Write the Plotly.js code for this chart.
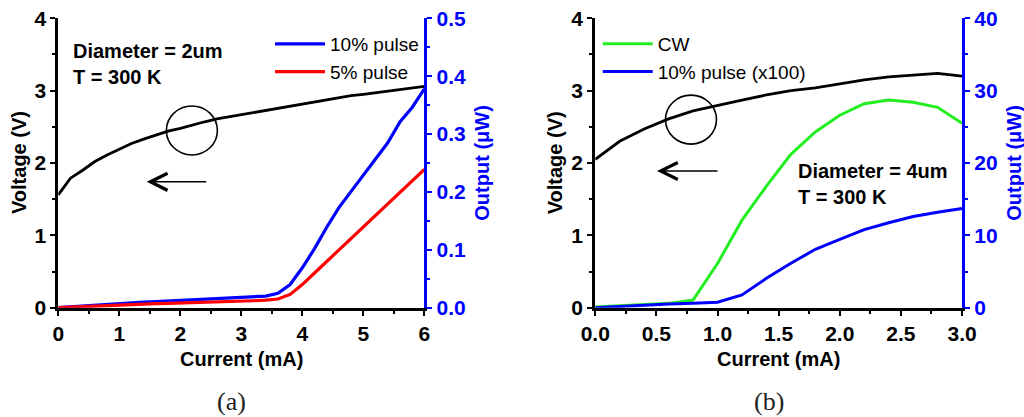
<!DOCTYPE html>
<html>
<head>
<meta charset="utf-8">
<script src="https://cdn.plot.ly/plotly-3.0.1.min.js"></script>
<style>
  html, body { margin: 0; padding: 0; background: #fff; }
  #chart { width: 1024px; height: 417px; }
</style>
</head>
<body>
<div id="chart"></div>
<script>
// (a) 2 um device: current sweep, voltage and pulsed output
const currentA = [0, 0.2, 0.4, 0.6, 0.8, 1.0, 1.2, 1.4, 1.6, 1.8, 2.0, 2.2, 2.4, 2.6, 2.8, 3.0,
                  3.2, 3.4, 3.6, 3.8, 4.0, 4.2, 4.4, 4.6, 4.8, 5.0, 5.2, 5.4, 5.6, 5.8, 6.0];
const voltageA = [1.56, 1.79, 1.90, 2.02, 2.11, 2.19, 2.27, 2.33, 2.39, 2.44, 2.48, 2.53, 2.57, 2.61, 2.64, 2.67,
                  2.70, 2.73, 2.76, 2.79, 2.82, 2.85, 2.87, 2.90, 2.93, 2.95, 2.97, 2.99, 3.01, 3.03, 3.06];
const pulse10A = [0.000, 0.0015, 0.003, 0.0045, 0.006, 0.0075, 0.0085, 0.0095, 0.0105, 0.0115, 0.012, 0.013, 0.014, 0.015, 0.016, 0.017,
                  0.018, 0.020, 0.025, 0.040, 0.069, 0.102, 0.139, 0.173, 0.201, 0.229, 0.257, 0.285, 0.321, 0.346, 0.378];
const pulse5A  = [0.000, 0.001, 0.002, 0.003, 0.004, 0.005, 0.0055, 0.006, 0.007, 0.0075, 0.008, 0.0085, 0.009, 0.0095, 0.010, 0.011,
                  0.012, 0.013, 0.015, 0.023, 0.040, 0.060, 0.080, 0.100, 0.120, 0.140, 0.160, 0.180, 0.200, 0.220, 0.239];

// (b) 4 um device
const currentB = [0, 0.2, 0.4, 0.6, 0.8, 1.0, 1.2, 1.4, 1.6, 1.8, 2.0, 2.2, 2.4, 2.6, 2.8, 3.0];
const voltageB = [2.05, 2.30, 2.47, 2.61, 2.72, 2.80, 2.87, 2.94, 3.00, 3.04, 3.10, 3.15, 3.19, 3.21, 3.24, 3.20];
const cwB      = [0.1, 0.25, 0.4, 0.6, 1.05, 6.1, 12.1, 16.8, 21.2, 24.3, 26.6, 28.2, 28.7, 28.4, 27.7, 25.5];
const pulse10B = [0.0, 0.2, 0.35, 0.5, 0.6, 0.75, 1.76, 4.06, 6.14, 8.07, 9.45, 10.8, 11.75, 12.6, 13.2, 13.7];

// Tick labels
const xTicksA = [0, 1, 2, 3, 4, 5, 6];
const xTicksB = ['0.0', '0.5', '1.0', '1.5', '2.0', '2.5', '3.0'];
const vTicks = [0, 1, 2, 3, 4];
const outTicksA = ['0.0', '0.1', '0.2', '0.3', '0.4', '0.5'];
const outTicksB = [0, 10, 20, 30, 40];

const FONT = 'Liberation Sans, Arial, sans-serif';
const BLUE = '#0000ff';
const BLACK = '#000000';

const traces = [
  { x: currentA, y: voltageA, xaxis: 'x', yaxis: 'y', mode: 'lines', showlegend: false,
    line: { color: BLACK, width: 2.8 }, name: 'Voltage' },
  { x: currentA, y: pulse10A, xaxis: 'x', yaxis: 'y2', mode: 'lines', name: '10% pulse',
    line: { color: BLUE, width: 3.2 }, legend: 'legend' },
  { x: currentA, y: pulse5A, xaxis: 'x', yaxis: 'y2', mode: 'lines', name: '5% pulse',
    line: { color: '#ff0000', width: 3.2 }, legend: 'legend' },

  { x: currentB, y: voltageB, xaxis: 'x2', yaxis: 'y3', mode: 'lines', showlegend: false,
    line: { color: BLACK, width: 2.8 }, name: 'Voltage' },
  { x: currentB, y: cwB, xaxis: 'x2', yaxis: 'y4', mode: 'lines', name: 'CW',
    line: { color: '#22ee22', width: 3 }, legend: 'legend2' },
  { x: currentB, y: pulse10B, xaxis: 'x2', yaxis: 'y4', mode: 'lines', name: '10% pulse (x100)',
    line: { color: BLUE, width: 3 }, legend: 'legend2' }
];

const yDom = [0.2621, 0.9561];
const domA = [0.0569, 0.4144];
const domB = [0.5813, 0.9395];
const tickFont = { family: FONT, size: 21, color: BLACK, weight: 'bold' };
const blueTickFont = { family: FONT, size: 21, color: BLUE, weight: 'bold' };

function baseAxis(extra) {
  return Object.assign({
    showgrid: false, zeroline: false, showline: true, linecolor: BLACK, linewidth: 3,
    ticks: 'outside', ticklen: 5, tickwidth: 2, tickcolor: BLACK,
    tickfont: tickFont, fixedrange: true
  }, extra);
}

function topAxis(overlay, anchor, range, dtick) {
  return {
    overlaying: overlay, anchor: anchor, side: 'top', range: range,
    showgrid: false, zeroline: false, showline: true, linecolor: BLACK, linewidth: 3,
    ticks: 'inside', ticklen: 4, tickwidth: 2, tickcolor: BLACK, dtick: dtick,
    showticklabels: false,
    minor: { ticks: 'inside', dtick: dtick / 2, ticklen: 3, tickwidth: 2, tickcolor: BLACK }
  };
}

const layout = {
  width: 1024, height: 417,
  margin: { l: 0, r: 0, t: 0, b: 0 },
  paper_bgcolor: '#fff', plot_bgcolor: 'rgba(0,0,0,0)',
  font: { family: FONT, color: BLACK },
  xaxis: baseAxis({ domain: domA, anchor: 'y', range: [0, 6],
    tickmode: 'array', tickvals: xTicksA, ticktext: xTicksA.map(String),
    minor: { ticks: 'outside', dtick: 0.5, ticklen: 3, tickwidth: 2, tickcolor: BLACK } }),
  yaxis: baseAxis({ domain: yDom, anchor: 'x', range: [0, 4],
    tickmode: 'array', tickvals: vTicks, ticktext: vTicks.map(String),
    minor: { ticks: 'outside', dtick: 0.5, ticklen: 3, tickwidth: 2, tickcolor: BLACK } }),
  yaxis2: baseAxis({ overlaying: 'y', side: 'right', anchor: 'x', range: [0, 0.5],
    linecolor: BLUE, tickcolor: BLUE, tickfont: blueTickFont,
    tickmode: 'array', tickvals: outTicksA.map(Number), ticktext: outTicksA,
    minor: { ticks: 'outside', dtick: 0.05, ticklen: 3, tickwidth: 2, tickcolor: BLUE } }),
  xaxis3: topAxis('x', 'y', [0, 6], 1),

  xaxis2: baseAxis({ domain: domB, anchor: 'y3', range: [0, 3],
    tickmode: 'array', tickvals: xTicksB.map(Number), ticktext: xTicksB,
    minor: { ticks: 'outside', dtick: 0.25, ticklen: 3, tickwidth: 2, tickcolor: BLACK } }),
  yaxis3: baseAxis({ domain: yDom, anchor: 'x2', range: [0, 4],
    tickmode: 'array', tickvals: vTicks, ticktext: vTicks.map(String),
    minor: { ticks: 'outside', dtick: 0.5, ticklen: 3, tickwidth: 2, tickcolor: BLACK } }),
  yaxis4: baseAxis({ overlaying: 'y3', side: 'right', anchor: 'x2', range: [0, 40],
    linecolor: BLUE, tickcolor: BLUE, tickfont: blueTickFont,
    tickmode: 'array', tickvals: outTicksB, ticktext: outTicksB.map(String),
    minor: { ticks: 'outside', dtick: 5, ticklen: 3, tickwidth: 2, tickcolor: BLUE } }),
  xaxis4: topAxis('x2', 'y3', [0, 3], 0.5),

  legend: {
    x: 0.2637, y: 0.94, xanchor: 'left', yanchor: 'top',
    bgcolor: 'rgba(0,0,0,0)', borderwidth: 0, itemwidth: 50,
    font: { family: FONT, size: 19, color: BLACK }, tracegroupgap: 0
  },
  legend2: {
    x: 0.5837, y: 0.94, xanchor: 'left', yanchor: 'top',
    bgcolor: 'rgba(0,0,0,0)', borderwidth: 0, itemwidth: 50,
    font: { family: FONT, size: 19, color: BLACK }, tracegroupgap: 0
  },

  shapes: [
    { type: 'circle', xref: 'x', yref: 'y', xsizemode: 'pixel', ysizemode: 'pixel',
      xanchor: 2.19, yanchor: 2.45, x0: -25.5, x1: 25.5, y0: -24.5, y1: 24.5,
      line: { color: BLACK, width: 1.6 } },
    { type: 'circle', xref: 'x2', yref: 'y3', xsizemode: 'pixel', ysizemode: 'pixel',
      xanchor: 0.783, yanchor: 2.60, x0: -25.5, x1: 25.5, y0: -24.5, y1: 24.5,
      line: { color: BLACK, width: 1.6 } }
  ],

  annotations: [
    // arrows pointing to the voltage axis
    { xref: 'x', yref: 'y', x: 1.45, y: 1.74, ax: 61, ay: 0, text: '', showarrow: true,
      arrowhead: 5, arrowsize: 2.1, arrowwidth: 1.6, arrowcolor: BLACK, standoff: 0 },
    { xref: 'x2', yref: 'y3', x: 0.505, y: 1.89, ax: 62, ay: 0, text: '', showarrow: true,
      arrowhead: 5, arrowsize: 2.1, arrowwidth: 1.6, arrowcolor: BLACK, standoff: 0 },

    // device notes
    { xref: 'x', yref: 'y', x: 0.21, y: 3.73, xanchor: 'left', yanchor: 'top', align: 'left',
      showarrow: false, text: 'Diameter = 2um<br>T = 300 K',
      font: { family: FONT, size: 20, color: BLACK, weight: 'bold' } },
    { xref: 'x2', yref: 'y3', x: 1.64, y: 2.07, xanchor: 'left', yanchor: 'top', align: 'left',
      showarrow: false, text: 'Diameter = 4um<br>T = 300 K',
      font: { family: FONT, size: 20, color: BLACK, weight: 'bold' } },

    // axis titles
    { xref: 'paper', yref: 'paper', x: (58.3 + 424.3) / 2 / 1024, y: 1 - 359 / 417,
      xanchor: 'center', yanchor: 'middle', showarrow: false, text: 'Current (mA)',
      font: { family: FONT, size: 20, color: BLACK, weight: 'bold' } },
    { xref: 'paper', yref: 'paper', x: (595.3 + 962) / 2 / 1024, y: 1 - 359 / 417,
      xanchor: 'center', yanchor: 'middle', showarrow: false, text: 'Current (mA)',
      font: { family: FONT, size: 20, color: BLACK, weight: 'bold' } },
    { xref: 'paper', yref: 'paper', x: 19 / 1024, y: (yDom[0] + yDom[1]) / 2,
      xanchor: 'center', yanchor: 'middle', showarrow: false, textangle: -90, text: 'Voltage (V)',
      font: { family: FONT, size: 20, color: BLACK, weight: 'bold' } },
    { xref: 'paper', yref: 'paper', x: 555.3 / 1024, y: (yDom[0] + yDom[1]) / 2,
      xanchor: 'center', yanchor: 'middle', showarrow: false, textangle: -90, text: 'Voltage (V)',
      font: { family: FONT, size: 20, color: BLACK, weight: 'bold' } },
    { xref: 'paper', yref: 'paper', x: 481.7 / 1024, y: (yDom[0] + yDom[1]) / 2,
      xanchor: 'center', yanchor: 'middle', showarrow: false, textangle: -90, text: 'Output (μW)',
      font: { family: FONT, size: 20, color: BLUE, weight: 'bold' } },
    { xref: 'paper', yref: 'paper', x: 1013.7 / 1024, y: (yDom[0] + yDom[1]) / 2,
      xanchor: 'center', yanchor: 'middle', showarrow: false, textangle: -90, text: 'Output (μW)',
      font: { family: FONT, size: 20, color: BLUE, weight: 'bold' } },

    // panel labels
    { xref: 'paper', yref: 'paper', x: 231 / 1024, y: 1 - 401.7 / 417,
      xanchor: 'center', yanchor: 'middle', showarrow: false, text: '(a)',
      font: { family: 'Liberation Serif, Times New Roman, serif', size: 26, color: '#222' } },
    { xref: 'paper', yref: 'paper', x: 768.7 / 1024, y: 1 - 401.7 / 417,
      xanchor: 'center', yanchor: 'middle', showarrow: false, text: '(b)',
      font: { family: 'Liberation Serif, Times New Roman, serif', size: 26, color: '#222' } }
  ]
};

Plotly.newPlot('chart', traces, layout, { displayModeBar: false, staticPlot: true });
</script>
</body>
</html>
